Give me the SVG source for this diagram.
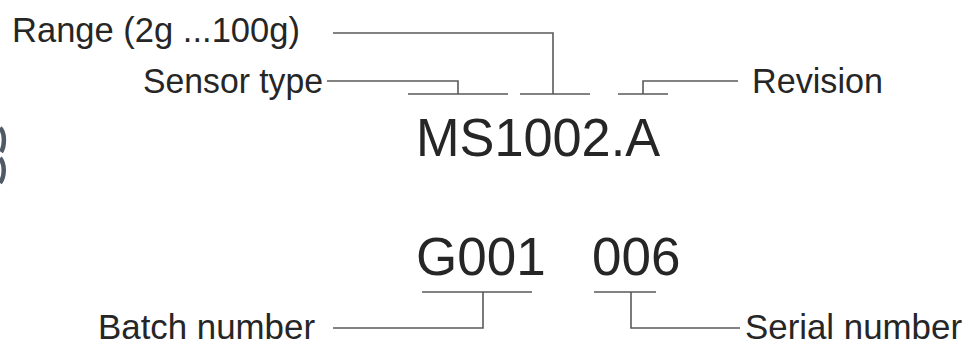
<svg xmlns="http://www.w3.org/2000/svg" width="973" height="345" viewBox="0 0 973 345">
<style>
.lbl{font-family:"Liberation Sans",Arial,sans-serif;font-size:35px;fill:#262626}
.code{font-family:"Liberation Sans",Arial,sans-serif;font-size:53px;fill:#262626}
.ln{fill:none;stroke:#5a5a5a;stroke-width:1.6}
</style>
<rect width="973" height="345" fill="#ffffff"/>
<path d="M0,128 C5,132 5,146 1,152 M0,158 C5,164 5,176 0,183" fill="none" stroke="#4f5a66" stroke-width="4.5"/>
<g id="connectors">
<path class="ln" d="M333,33 H553 V94 M520,94 H590"/>
<path class="ln" d="M327,81 H458 V94 M408,94 H508"/>
<path class="ln" d="M738,81 H643 V94 M618,94 H668"/>
<path class="ln" d="M422,292 H532 M483,292 V328 H333"/>
<path class="ln" d="M594,292 H656 M631,292 V328 H740"/>
</g>
<g id="range"><text class="lbl" x="12" y="42" textLength="288" lengthAdjust="spacingAndGlyphs">Range (2g ...100g)</text></g>
<g id="sensor-type"><text class="lbl" x="143" y="93" textLength="180" lengthAdjust="spacingAndGlyphs">Sensor type</text></g>
<g id="revision"><text class="lbl" x="752" y="93" textLength="131" lengthAdjust="spacingAndGlyphs">Revision</text></g>
<g id="code"><text class="code" x="416" y="156" textLength="244" lengthAdjust="spacingAndGlyphs">MS1002.A</text></g>
<g id="batch"><text class="code" x="416" y="275">G001</text></g>
<g id="serial"><text class="code" x="592" y="275">006</text></g>
<g id="batch-label"><text class="lbl" x="98" y="339" textLength="217" lengthAdjust="spacingAndGlyphs">Batch number</text></g>
<g id="serial-label"><text class="lbl" x="745" y="339" textLength="217" lengthAdjust="spacingAndGlyphs">Serial number</text></g>
</svg>
